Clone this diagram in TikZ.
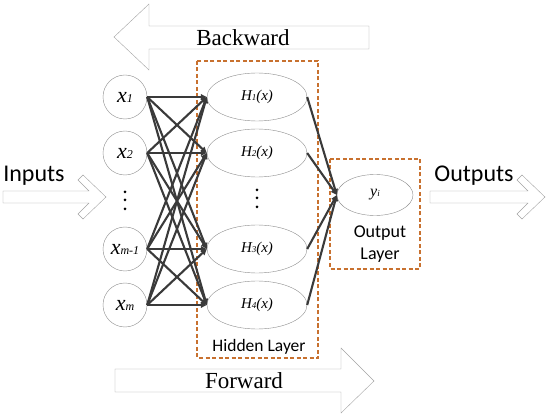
\documentclass[tikz,border=0pt]{standalone}
\usepackage{fontspec}
\setmainfont{Liberation Serif}
\newfontfamily\calib{Carlito}
\usepackage{tikz}
\usetikzlibrary{arrows.meta,shapes.geometric}
\definecolor{edgex}{HTML}{3A3A3A}
\definecolor{rimx}{HTML}{8E8E8E}
\definecolor{blockx}{HTML}{A3A3A3}
\definecolor{layerx}{HTML}{C8712F}
\newcommand\inlab[1]{{\fontsize{22}{22}\selectfont\itshape x{\fontsize{12}{12}\selectfont #1}}}
\newcommand\hlab[1]{{\fontsize{15}{15}\selectfont\itshape H{\fontsize{9}{9}\selectfont #1}(x)}}
\tikzset{
  ed/.style={-{Triangle[length=6pt,width=5.5pt]},line width=2.1pt,edgex},
  inn/.style={circle,draw=rimx,thin,minimum size=44pt,inner sep=0pt},
  hid/.style={ellipse,draw=rimx,thin,minimum width=100pt,minimum height=48pt,inner sep=0pt},
  blk/.style={draw=blockx,thin,fill=white},
  lay/.style={draw=layerx,line width=1.1pt,dash pattern=on 4pt off 2.5pt},
  dotx/.style={fill=black},
  big/.style={font=\fontsize{23}{23}\selectfont},
  side/.style={font=\calib\fontsize{24}{24}\selectfont,anchor=base}
}
\begin{document}
\begin{tikzpicture}[x=1pt,y=-1pt]
\useasboundingbox[fill=white] (0,0) rectangle (550,417);
\draw[blk] (369,26) -- (149,26) -- (149,4) -- (114,37) -- (149,70) -- (149,49) -- (369,49) -- cycle;
\draw[blk] (115,369) -- (341,369) -- (341,348) -- (374,381) -- (341,413) -- (341,392) -- (115,392) -- cycle;
\draw[blk] (3,191) -- (89,191) -- (78,180) -- (83,175) -- (106,197) -- (83,219) -- (78,214) -- (89,203) -- (3,203) -- cycle;
\draw[blk] (430,191) -- (528,191) -- (517,180) -- (522,175) -- (545,197) -- (522,219) -- (517,214) -- (528,203) -- (430,203) -- cycle;
\node[big] (back) at (243,38) {Backward};
\node[big] (fwd) at (244,381) {Forward};
\node[side] (inp) at (34,182) {Inputs};
\node[side] (outp) at (474,182) {Outputs};
\draw[lay] (197,61) rectangle (318,358);
\draw[lay] (330,159) rectangle (420,269);
\node[font=\calib\fontsize{17.5}{17.5}\selectfont,anchor=base] (hidlab) at (259,352) {Hidden Layer};
\node[font=\calib\fontsize{18}{22}\selectfont,align=center] (outlab) at (380,244) {Output\\Layer};
\node[inn] (x1) at (125,97) {\inlab{1}};
\node[inn] (x2) at (125,153) {\inlab{2}};
\node[inn] (x3) at (125,249) {\inlab{m-1}};
\node[inn] (x4) at (125,305) {\inlab{m}};
\node[hid] (h1) at (257,97) {\hlab{1}};
\node[hid] (h2) at (257,153) {\hlab{2}};
\node[hid] (h3) at (257,249) {\hlab{3}};
\node[hid] (h4) at (257,305) {\hlab{4}};
\node[ellipse,draw=rimx,thin,minimum width=76pt,minimum height=41pt,inner sep=0pt] (y) at (375,195)
  {\fontsize{16}{16}\selectfont\itshape y{\fontsize{9}{9}\selectfont i}};
\foreach \yy in {192,200,209} {
  \fill[dotx] (125,\yy) circle (1.5);
  \fill[dotx] (257,\yy-2) circle (1.5);
}
\foreach \i in {1,...,4}
  \foreach \j in {1,...,4}
    \draw[ed] (x\i.east) -- (h\j.west);
\foreach \j in {1,...,4}
  \draw[ed] (h\j.east) -- (y.west);
\end{tikzpicture}
\end{document}
